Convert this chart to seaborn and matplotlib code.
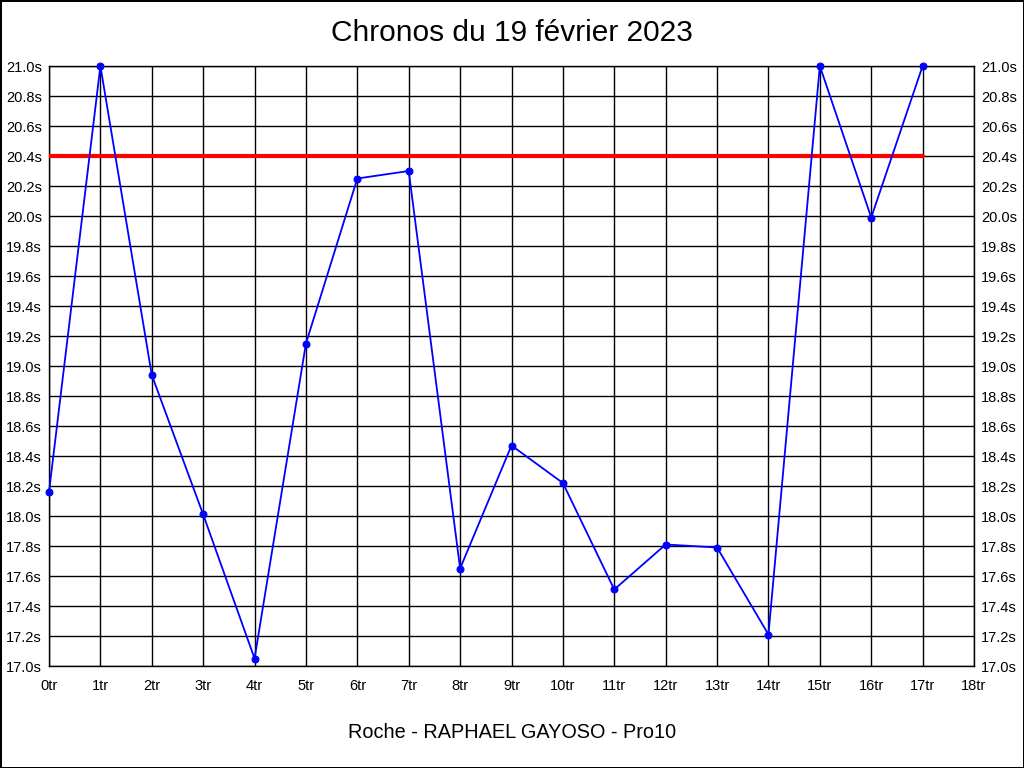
import numpy as np
import pandas as pd
import matplotlib
matplotlib.use("Agg")
import matplotlib.pyplot as plt
import seaborn as sns

# lap times
tours = list(range(18))
chronos = [18.16, 21.0, 18.94, 18.01, 17.05, 19.15, 20.25, 20.30, 17.65,
           18.47, 18.22, 17.51, 17.81, 17.79, 17.21, 21.0, 19.99, 21.0]
objectif = 20.4
titre = "Chronos du 19 février 2023"
sous_titre = "Roche - RAPHAEL GAYOSO - Pro10"
x_ticks = list(range(19))
y_ticks = [round(17.0 + 0.2 * i, 1) for i in range(21)]

df = pd.DataFrame({"tour": tours, "chrono": chronos})

sns.set_style("white")
plt.rcParams["font.family"] = ["Liberation Sans", "DejaVu Sans"]
plt.rcParams["text.color"] = "black"

fig = plt.figure(figsize=(10.24, 7.68), dpi=100)
fig.patch.set_edgecolor("black")
fig.patch.set_linewidth(2)
ax = fig.add_axes([49 / 1024, 1 - 666 / 768, 925 / 1024, 600 / 768])

ax.set_xlim(0, 18)
ax.set_ylim(17.0, 21.0)
ax.set_xticks(x_ticks)
ax.set_yticks(y_ticks)
ax.set_xticklabels([f"{t}tr" for t in x_ticks])
ax.set_yticklabels([f"{v:.1f}s" for v in y_ticks])
ax.grid(True, color="black", linewidth=1)
ax.set_axisbelow(True)
for s in ax.spines.values():
    s.set_color("black")
    s.set_linewidth(1)

ax.plot([0, 17], [objectif, objectif], color="red", linewidth=3, zorder=3)
sns.lineplot(data=df, x="tour", y="chrono", ax=ax, color="blue", linewidth=1.3,
             marker="o", markersize=5, markeredgecolor="blue", zorder=4,
             clip_on=False)

ax.tick_params(axis="both", length=0, labelsize=10.5, colors="black")
ax.tick_params(axis="x", pad=9)
ax.tick_params(axis="y", pad=5, labelright=True, right=True)
ax.set_xlabel("")
ax.set_ylabel("")

fig.text(0.5, 1 - 33 / 768, titre, ha="center", va="center", fontsize=21.5)
fig.text(0.5, 1 - 733 / 768, sous_titre, ha="center", va="center", fontsize=14.3)

fig.savefig("out.png", dpi=100, edgecolor=fig.get_edgecolor())
